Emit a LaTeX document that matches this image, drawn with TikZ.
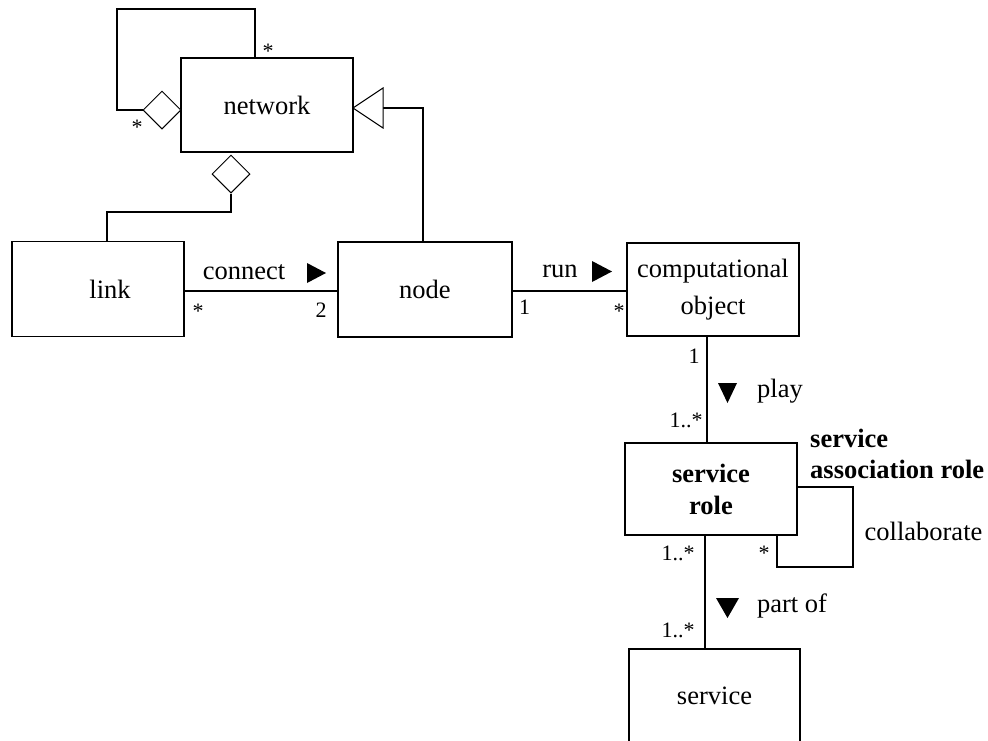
\documentclass[tikz,border=0pt]{standalone}
\usepackage{fontspec}
\setmainfont{Liberation Serif}
\usetikzlibrary{shapes.geometric}
\begin{document}
\begin{tikzpicture}[x=1pt,y=-1pt,
  box/.style={draw, line width=1.5pt, minimum width=172pt, minimum height=94pt,
    inner sep=0pt, align=center, font=\fontsize{26.5}{34}\selectfont},
  wire/.style={line width=1.5pt},
  aggr/.style={draw, diamond, line width=1pt, minimum width=38pt, minimum height=38pt,
    inner sep=0pt, fill=white},
  gentip/.style={draw, line width=1pt, fill=white},
  lbl/.style={font=\fontsize{26.5}{31}\selectfont, anchor=base, inner sep=0pt},
  mult/.style={font=\fontsize{22}{26}\selectfont, anchor=base, inner sep=0pt},
  dirmark/.style={fill=black}
]
\useasboundingbox (0,0) rectangle (988,740);

% classes
\node[box] (network) at (267,105) {network};
\node[box, minimum height=95pt] (link) at (98,289) {\hspace*{24pt}link};
\node[box, minimum width=174pt, minimum height=95pt] (node) at (425,289.5) {node};
\node[box, minimum height=93pt, font=\fontsize{26.5}{37}\selectfont] (comp) at (713,289.5) {computational\\object};
\node[box, minimum height=92pt, font=\fontsize{26.5}{32}\selectfont\bfseries] (srole) at (711,489) {service\\role};
\node[box, minimum width=171pt] (service) at (714.5,696) {service};

% network aggregates networks
\node[aggr] (agg1) at (162,110) {};
\coordinate (nl1) at (117,9);
\coordinate (nl2) at (255,58);
\draw[wire] (agg1.west) -| (nl1) -| (nl2);
\node[mult] (m1) at (137,134) {*};
\node[mult] (m2) at (268,58) {*};

% network aggregates links
\node[aggr] (agg2) at (231,174) {};
\coordinate (ll) at (107,212);
\draw[wire] (agg2.south) |- (ll) -- (ll |- link.north);

% node specialises network
\coordinate (gbend) at (423,108);
\coordinate (gbase) at (383,108);
\coordinate (gtip) at (353,108);
\draw[wire] (gbend |- node.north) -- (gbend) -- (gbase);
\draw[gentip] (gtip) -- (383,88) -- (383,128) -- cycle;

% connect
\coordinate (row) at (0,291);
\draw[wire] (link.east |- row) -- (node.west |- row);
\node[lbl] (lconnect) at (244,279) {connect};
\fill[dirmark] (307,263) -- (326,273) -- (307,283) -- cycle;
\node[mult] (m3) at (198,318) {*};
\node[mult] (m4) at (321,317) {2};

% run
\draw[wire] (node.east |- row) -- (comp.west |- row);
\node[lbl] (lrun) at (560,277) {run};
\fill[dirmark] (592,261) -- (612,271.5) -- (592,282) -- cycle;
\node[mult] (m5) at (524.5,314) {1};
\node[mult] (m6) at (619,318) {*};

% play
\coordinate (px) at (707,0);
\draw[wire] (comp.south -| px) -- (srole.north -| px);
\node[mult] (m7) at (694,363) {1};
\fill[dirmark] (718,383) -- (737,383) -- (727.5,403) -- cycle;
\node[lbl] (lplay) at (780,397) {play};
\node[mult] (m8) at (686,427) {1..*};

% collaborate
\coordinate (c1) at (853,487);
\coordinate (c2) at (777,567);
\draw[wire] (srole.east |- c1) -- (c1) |- (c2) -- (c2 |- srole.south);
\node[lbl, anchor=base west, align=left, font=\fontsize{26.5}{31}\selectfont\bfseries] (lassoc) at (810,478) {service\\association role};
\node[lbl] (lcollab) at (923.5,540) {collaborate};
\node[mult] (m9) at (764,560) {*};

% part of
\coordinate (qx) at (705,0);
\draw[wire] (srole.south -| qx) -- (service.north -| qx);
\node[mult] (m10) at (678,560) {1..*};
\fill[dirmark] (716,598) -- (739,598) -- (727.5,618) -- cycle;
\node[lbl] (lpart) at (792,612) {part of};
\node[mult] (m11) at (678,637) {1..*};
\end{tikzpicture}
\end{document}
